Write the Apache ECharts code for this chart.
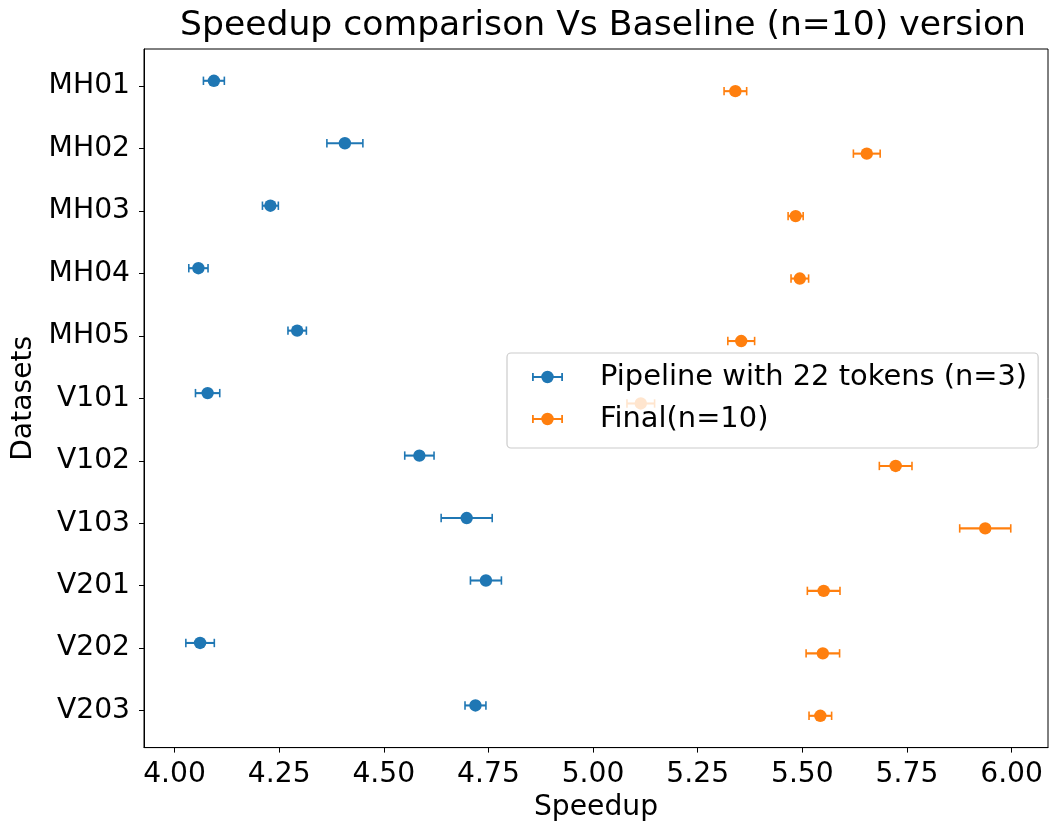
<!DOCTYPE html>
<html>
<head>
<meta charset="utf-8">
<title>Speedup comparison</title>
<script src="https://cdn.jsdelivr.net/npm/echarts@6/dist/echarts.min.js"></script>
<style>
  html, body { margin: 0; padding: 0; background: #fff; }
  #chart { width: 1049px; height: 827px; }
</style>
</head>
<body>
<div id="chart"></div>
<script>
// Dataset names, top to bottom
const datasets = ['MH01', 'MH02', 'MH03', 'MH04', 'MH05', 'V101', 'V102', 'V103', 'V201', 'V202', 'V203'];

// Pipeline with 22 tokens (n=3): mean speedup and error
const pipelineMean = [4.094, 4.407, 4.229, 4.057, 4.293, 4.079, 4.585, 4.698, 4.744, 4.061, 4.719];
const pipelineErr  = [0.025, 0.043, 0.019, 0.023, 0.022, 0.029, 0.035, 0.061, 0.037, 0.034, 0.025];

// Final (n=10): mean speedup and error
const finalMean = [5.340, 5.654, 5.484, 5.494, 5.354, 5.114, 5.723, 5.937, 5.551, 5.549, 5.543];
const finalErr  = [0.027, 0.032, 0.018, 0.021, 0.032, 0.033, 0.039, 0.061, 0.039, 0.040, 0.027];

// X tick values
const xTicks = [4.00, 4.25, 4.50, 4.75, 5.00, 5.25, 5.50, 5.75, 6.00];
const yTicks = datasets.map((_, i) => i);

const FONT = 'DejaVu Sans';
const BLUE = '#1f77b4';
const ORANGE = '#ff7f0e';
const ROW_SHIFT = 0.083; // vertical shift of the two series within a row

// Legend glyph: error bar with caps and a dot
const errIcon = 'path://M0,5.2 H31 V7.2 H0 Z M0,2.2 H1.8 V10.2 H0 Z M29.2,2.2 H31 V10.2 H29.2 Z ' +
  'M9.3,6.2 A6.2,6.2 0 1 1 21.7,6.2 A6.2,6.2 0 1 1 9.3,6.2 Z';

function renderErrorPoint(params, api) {
  const x = api.value(0), y = api.value(1), e = api.value(2);
  const c = api.coord([x, y]);
  const l = api.coord([x - e, y]);
  const r = api.coord([x + e, y]);
  const color = api.visual('color');
  const cap = 4.2;
  return {
    type: 'group',
    children: [
      { type: 'line', shape: { x1: l[0], y1: c[1], x2: r[0], y2: c[1] }, style: { stroke: color, lineWidth: 2.1 } },
      { type: 'line', shape: { x1: l[0], y1: c[1] - cap, x2: l[0], y2: c[1] + cap }, style: { stroke: color, lineWidth: 1.6 } },
      { type: 'line', shape: { x1: r[0], y1: c[1] - cap, x2: r[0], y2: c[1] + cap }, style: { stroke: color, lineWidth: 1.6 } },
      { type: 'circle', shape: { cx: c[0], cy: c[1], r: 6.2 }, style: { fill: color } }
    ]
  };
}

const pipelineData = datasets.map((_, i) => [pipelineMean[i], i - ROW_SHIFT, pipelineErr[i]]);
const finalData = datasets.map((_, i) => [finalMean[i], i + ROW_SHIFT, finalErr[i]]);

const chart = echarts.init(document.getElementById('chart'), null, { renderer: 'canvas' });

chart.setOption({
  animation: false,
  backgroundColor: '#ffffff',
  textStyle: { fontFamily: FONT },
  title: {
    text: 'Speedup comparison Vs Baseline (n=10) version',
    left: 598,
    textAlign: 'center',
    top: 4,
    textStyle: { fontFamily: FONT, fontSize: 34.6, fontWeight: 'normal', color: '#000' }
  },
  grid: {
    left: 144, right: 1, top: 49, bottom: 77,
    show: true, borderColor: '#000', borderWidth: 1, backgroundColor: 'transparent'
  },
  legend: {
    orient: 'vertical',
    left: 507,
    top: 353,
    padding: [9, 11, 14, 25],
    itemGap: 12,
    itemWidth: 31,
    itemHeight: 12.4,
    backgroundColor: 'rgba(255,255,255,0.8)',
    borderColor: '#cccccc',
    borderWidth: 1.2,
    borderRadius: 4,
    itemStyle: { borderWidth: 0 },
    textStyle: { fontFamily: FONT, fontSize: 28.9, color: '#000', lineHeight: 30, padding: [0, 0, 0, 32] },
    data: [
      { name: 'Pipeline with 22 tokens (n=3)', icon: errIcon },
      { name: 'Final(n=10)', icon: errIcon }
    ]
  },
  xAxis: {
    type: 'value',
    min: 3.927,
    max: 6.087,
    name: 'Speedup',
    nameLocation: 'middle',
    nameGap: 46,
    nameTextStyle: { fontFamily: FONT, fontSize: 28.2, color: '#000' },
    axisLine: { show: true, onZero: false, lineStyle: { color: '#000', width: 1 } },
    axisTick: { show: true, length: 5, lineStyle: { color: '#000', width: 1 }, customValues: xTicks },
    axisLabel: {
      show: true, margin: 13.5, fontFamily: FONT, fontSize: 28.2, color: '#000',
      customValues: xTicks,
      formatter: v => v.toFixed(2)
    },
    splitLine: { show: false }
  },
  yAxis: {
    type: 'value',
    inverse: true,
    min: -0.592,
    max: 10.592,
    name: 'Datasets',
    nameLocation: 'middle',
    nameGap: 102,
    nameRotate: 90,
    nameTextStyle: { fontFamily: FONT, fontSize: 28.2, color: '#000' },
    axisLine: { show: true, onZero: false, lineStyle: { color: '#000', width: 1 } },
    axisTick: { show: true, length: 5, lineStyle: { color: '#000', width: 1 }, customValues: yTicks },
    axisLabel: {
      show: true, margin: 14, fontFamily: FONT, fontSize: 28.2, color: '#000',
      padding: [5, 0, 0, 0],
      customValues: yTicks,
      formatter: v => datasets[Math.round(v)] || ''
    },
    splitLine: { show: false }
  },
  series: [
    {
      name: 'Pipeline with 22 tokens (n=3)',
      type: 'custom',
      renderItem: renderErrorPoint,
      itemStyle: { color: BLUE },
      encode: { x: 0, y: 1 },
      data: pipelineData,
      z: 2
    },
    {
      name: 'Final(n=10)',
      type: 'custom',
      renderItem: renderErrorPoint,
      itemStyle: { color: ORANGE },
      encode: { x: 0, y: 1 },
      data: finalData,
      z: 2
    }
  ]
});
</script>
</body>
</html>
